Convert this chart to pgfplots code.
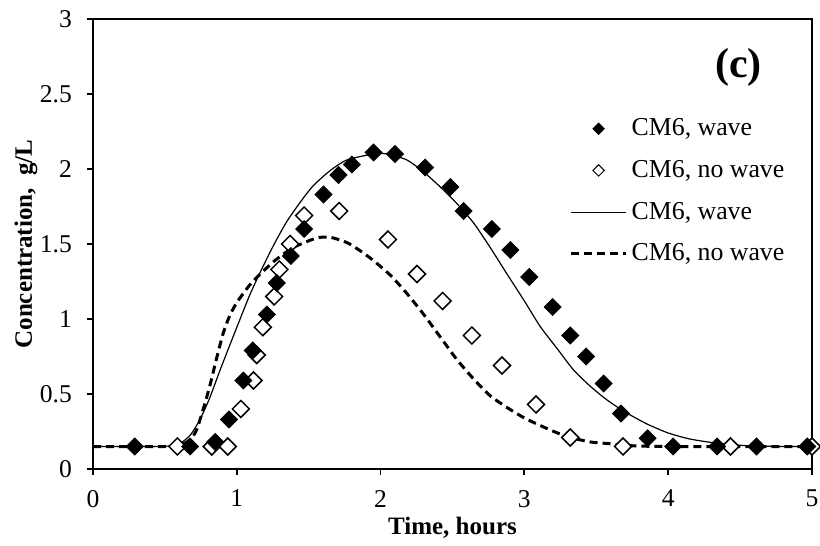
\documentclass[border=0pt]{standalone}
\usepackage{fontspec}
\setmainfont{Liberation Serif}
\usepackage{pgfplots}
\pgfplotsset{compat=1.18}

\pgfplotstableread{
t c
0.29 0.15
0.675 0.15
0.85 0.18
0.946 0.33
1.046 0.59
1.111 0.79
1.209 1.03
1.278 1.24
1.376 1.42
1.468 1.60
1.603 1.83
1.707 1.96
1.80 2.03
1.951 2.11
2.10 2.10
2.31 2.01
2.485 1.88
2.577 1.72
2.774 1.60
2.902 1.46
3.034 1.28
3.196 1.08
3.319 0.89
3.429 0.75
3.551 0.57
3.672 0.37
3.857 0.205
4.034 0.15
4.34 0.15
4.614 0.15
4.967 0.15
}\wavepts

\pgfplotstableread{
t c
0.587 0.15
0.826 0.15
0.937 0.15
1.028 0.40
1.116 0.59
1.139 0.76
1.181 0.945
1.26 1.15
1.296 1.33
1.371 1.50
1.468 1.69
1.712 1.72
2.051 1.53
2.253 1.30
2.431 1.12
2.635 0.89
2.844 0.69
3.081 0.43
3.319 0.21
3.686 0.15
4.433 0.15
5.0 0.15
}\nowavepts

\pgfplotstableread{
t c
0 0.15
0.4 0.15
0.55 0.155
0.62 0.18
0.68 0.23
0.744 0.33
0.81 0.47
0.884 0.66
0.953 0.83
1.023 1.0
1.09 1.16
1.162 1.31
1.255 1.49
1.348 1.65
1.45 1.79
1.533 1.89
1.65 1.99
1.765 2.06
1.95 2.10
2.05 2.10
2.183 2.06
2.3 1.98
2.415 1.88
2.53 1.77
2.647 1.64
2.76 1.48
2.879 1.30
3.0 1.12
3.11 0.95
3.23 0.80
3.342 0.66
3.46 0.55
3.575 0.46
3.7 0.38
3.853 0.30
4.0 0.24
4.15 0.20
4.317 0.175
4.55 0.155
4.8 0.15
5.0 0.15
}\wavemodel

\pgfplotstableread{
t c
0 0.15
0.5 0.15
0.62 0.165
0.68 0.20
0.72 0.26
0.767 0.40
0.814 0.56
0.86 0.74
0.907 0.91
0.95 1.02
1.0 1.11
1.093 1.23
1.185 1.32
1.278 1.40
1.4 1.48
1.556 1.54
1.65 1.545
1.765 1.51
1.85 1.46
1.95 1.39
2.07 1.29
2.183 1.17
2.3 1.03
2.415 0.88
2.53 0.73
2.647 0.60
2.76 0.49
2.879 0.41
3.0 0.34
3.11 0.29
3.23 0.24
3.342 0.205
3.46 0.18
3.575 0.17
3.75 0.155
4.0 0.15
5.0 0.15
}\nowavemodel

\begin{document}
\begin{tikzpicture}
\useasboundingbox (-46.5pt,-38.5pt) rectangle (363.5pt,234.5pt);
\begin{axis}[
  scale only axis,
  width=359.5pt, height=225pt,
  xmin=0, xmax=5, ymin=0, ymax=3,
  xtick={0,1,2,3,4,5},
  ytick={0,0.5,1,1.5,2,2.5,3},
  tick align=outside, tick pos=left,
  major tick length=3pt,
  axis line style={line width=1pt},
  every tick/.style={black, line width=0.9pt},
  /pgf/number format/assume math mode=true,
  tick label style={font=\fontsize{12.8}{15}\selectfont},
  xticklabel style={yshift=-4pt},
  yticklabel style={xshift=-4pt},
  xlabel={Time, hours},
  ylabel={Concentration,\ \ g/L},
  label style={font=\fontsize{12.5}{15}\selectfont\bfseries},
  xlabel style={at={(axis description cs:0.5,-0.131)}, anchor=center},
  ylabel style={at={(axis description cs:-0.0932,0.5)}, anchor=center},
  legend style={draw=none, fill=none, at={(0.976,0.797)}, anchor=north east,
    font=\fontsize{12.9}{15.5}\selectfont, row sep=6.8pt},
  legend cell align=left,
  legend image code/.code={\draw[mark repeat=2,mark phase=2,#1] plot coordinates {(0cm,0cm) (0.485cm,0cm) (0.97cm,0cm)};},
]
\addlegendimage{only marks, mark=square*, mark size=2pt, mark options={rotate=45, fill=black, draw=black}}
\addlegendentry{CM6, wave}
\addlegendimage{only marks, mark=square*, mark size=2pt, mark options={rotate=45, fill=white, draw=black, line width=0.5pt}}
\addlegendentry{CM6, no wave}
\addlegendimage{black, line width=0.6pt}
\addlegendentry{CM6, wave}
\addlegendimage{black, line width=1.5pt, dash pattern=on 4pt off 2.5pt}
\addlegendentry{CM6, no wave}

\addplot[forget plot, black, line width=0.6pt, smooth, tension=0.4] table[x=t, y=c] {\wavemodel};
\addplot[forget plot, black, line width=1.5pt, dash pattern=on 4pt off 2.5pt, smooth, tension=0.4] table[x=t, y=c] {\nowavemodel};
\addplot[forget plot, only marks, mark=square*, mark size=3pt,
  mark options={rotate=45, fill=white, draw=black, line width=0.75pt}] table[x=t, y=c] {\nowavepts};
\addplot[forget plot, only marks, mark=square*, mark size=3pt,
  mark options={rotate=45, fill=black, draw=black}] table[x=t, y=c] {\wavepts};

\node[font=\fontsize{21}{25}\selectfont\bfseries] at (axis cs:4.49,2.68) {(c)};
\end{axis}
\end{tikzpicture}
\end{document}
